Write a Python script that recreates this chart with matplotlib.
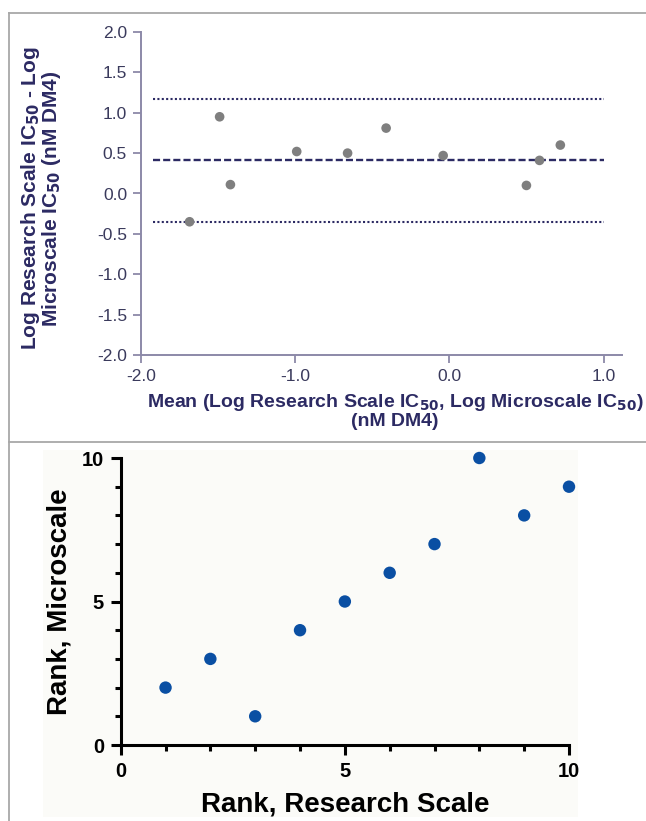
import matplotlib
matplotlib.use("Agg")
import matplotlib.pyplot as plt
from matplotlib.lines import Line2D
from matplotlib.patches import Rectangle

# top panel: Bland-Altman type plot
mean_log = [-1.685, -1.49, -1.42, -0.99, -0.66, -0.41, -0.04, 0.50, 0.585, 0.72]
diff_log = [-0.35, 0.95, 0.11, 0.52, 0.50, 0.81, 0.47, 0.10, 0.41, 0.60]
bias = 0.41
upper_loa = 1.17
lower_loa = -0.35

# bottom panel: rank comparison
rank_research = [1, 2, 3, 4, 5, 6, 7, 8, 9, 10]
rank_micro = [2, 3, 1, 4, 5, 6, 7, 10, 8, 9]

navy = "#2c2a63"
axis_grey = "#8c89a8"
tick_col = "#3a3a5c"

plt.rcParams['font.family'] = ["Liberation Sans", "DejaVu Sans"]

fig = plt.figure(figsize=(6.46, 8.21), dpi=100)
W, H = 646, 821

# panel frame lines
fig.add_artist(Line2D([9 / W, 1], [1 - 13 / H, 1 - 13 / H], color="#a8a8a8", lw=1.3))
fig.add_artist(Line2D([9 / W, 9 / W], [0, 1 - 13 / H], color="#a8a8a8", lw=1.3))
fig.add_artist(Line2D([9 / W, 1], [1 - 442 / H, 1 - 442 / H], color="#a8a8a8", lw=1.3))
fig.add_artist(Rectangle((43 / W, 4 / H), 535 / W, (821 - 450 - 4) / H,
                         facecolor="#fbfbf8", edgecolor="none", zorder=-5))

# ---- top plot
ax1 = fig.add_axes([141 / W, 1 - 355 / H, 481 / W, 323 / H])
ax1.set_facecolor("none")
ax1.set_xlim(-2.0, 1.12)
ax1.set_ylim(-2.0, 2.0)
ax1.spines['top'].set_visible(False)
ax1.spines['right'].set_visible(False)
for s in ['left', 'bottom']:
    ax1.spines[s].set_color(axis_grey)
    ax1.spines[s].set_linewidth(1.4)

ax1.hlines(upper_loa, -1.92, 1.0, colors=navy, linestyles=(0, (1, 1.1)), lw=1.5)
ax1.hlines(lower_loa, -1.92, 1.0, colors=navy, linestyles=(0, (1, 1.1)), lw=1.5)
ax1.hlines(bias, -1.92, 1.0, colors=navy, linestyles=(0, (3, 1.3)), lw=1.7)
ax1.scatter(mean_log, diff_log, s=48, color="#7f7f7f", edgecolors="none", zorder=3)

ax1.set_xticks([-2.0, -1.0, 0.0, 1.0])
ax1.set_xticklabels(["-2.0", "-1.0", "0.0", "1.0"])
ax1.set_yticks([-2.0, -1.5, -1.0, -0.5, 0.0, 0.5, 1.0, 1.5, 2.0])
ax1.set_yticklabels(["-2.0", "-1.5", "-1.0", "-0.5", "0.0", "0.5", "1.0", "1.5", "2.0"])
ax1.tick_params(colors=axis_grey, labelcolor=tick_col, labelsize=12.5,
                length=6, width=1.3, direction="out", pad=4)

ax1.set_xlabel("Mean (Log Research Scale IC$_{\\mathbf{50}}$, Log Microscale IC$_{\\mathbf{50}}$)\n(nM DM4)",
               fontsize=14, fontweight="bold", color=navy, linespacing=1.0)
ax1.xaxis.set_label_coords(0.528, -0.115, transform=ax1.transAxes)
ax1.xaxis.label.set_va("top")
ax1.set_ylabel("Log Research Scale IC$_{\\mathbf{50}}$ - Log\nMicroscale IC$_{\\mathbf{50}}$ (nM DM4)",
               fontsize=15, fontweight="bold", color=navy, linespacing=0.85)
ax1.yaxis.set_label_coords(-0.163, 0.485, transform=ax1.transAxes)

# ---- bottom plot
ax2 = fig.add_axes([120.7 / W, 1 - 745 / H, 448.3 / W, 287 / H])
ax2.set_facecolor("none")
ax2.set_xlim(0, 10)
ax2.set_ylim(0, 10)
ax2.spines['top'].set_visible(False)
ax2.spines['right'].set_visible(False)
for s in ['left', 'bottom']:
    ax2.spines[s].set_color("black")
    ax2.spines[s].set_linewidth(2.2)

ax2.scatter(rank_research, rank_micro, s=80, color="#0a4fa3", edgecolors="none",
            zorder=3, clip_on=False)

ax2.set_xticks([0, 5, 10])
ax2.set_yticks([0, 5, 10])
ax2.set_xticks(range(0, 11), minor=True)
ax2.set_yticks(range(0, 11), minor=True)
ax2.tick_params(which="major", length=7, width=2.2, labelsize=14.5, pad=5)
ax2.tick_params(which="minor", length=4.5, width=2.2)
for lab in ax2.get_xticklabels() + ax2.get_yticklabels():
    lab.set_fontweight("bold")

ax2.set_xlabel("Rank, Research Scale", fontsize=20, fontweight="bold")
ax2.xaxis.set_label_coords(0.5, -0.233, transform=ax2.transAxes)
ax2.xaxis.label.set_va("baseline")
ax2.set_ylabel("Rank, Microscale", fontsize=20, fontweight="bold")
ax2.yaxis.set_label_coords(-0.107, 0.5, transform=ax2.transAxes)

fig.savefig("out.png", dpi=100)
